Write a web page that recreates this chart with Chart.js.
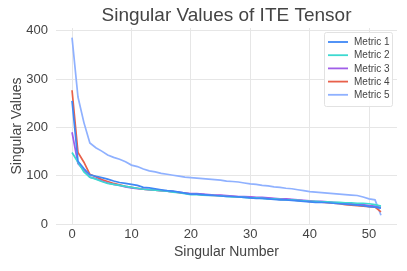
<!DOCTYPE html>
<html>
<head>
<meta charset="utf-8">
<script src="https://cdn.jsdelivr.net/npm/chart.js@4"></script>
<style>
  html, body { margin: 0; padding: 0; background: #fff; }
  #wrap { width: 407px; height: 271px; }
</style>
</head>
<body>
<div id="wrap"><canvas id="myChart"></canvas></div>
<script>
const metricNames = ["Metric 1", "Metric 2", "Metric 3", "Metric 4", "Metric 5"];
const metricColors = ["#3f87f5", "#3dd9d0", "#a05ee8", "#e8604a", "#8fb1ff"];

const metric1 = [255, 130, 115, 102, 99, 96, 93, 89, 86, 84,
  82, 80, 76, 75, 73, 71, 69, 68, 66, 64,
  62, 62, 61, 60, 59, 58, 57, 57, 56, 55,
  54, 53, 53, 52, 51, 50, 50, 49, 48, 47,
  46, 45, 45, 44, 43, 42, 41, 40, 39, 38,
  36, 35, 33];
const metric2 = [148, 128, 108, 97, 93, 88, 84, 82, 80, 78,
  76, 74, 72, 71, 70, 69, 68, 66, 65, 63,
  61, 61, 60, 59, 59, 58, 57, 56, 56, 55,
  54, 54, 53, 52, 52, 51, 50, 50, 49, 48,
  47, 47, 46, 46, 45, 45, 44, 44, 43, 43,
  42, 40, 37];
const metric3 = [190, 125, 112, 97, 94, 89, 85, 82, 80, 77,
  75, 73, 72, 71, 70, 69, 68, 67, 66, 64,
  63, 63, 62, 61, 60, 60, 59, 58, 57, 57,
  56, 55, 55, 54, 53, 52, 52, 51, 50, 49,
  48, 47, 47, 46, 45, 44, 43, 42, 41, 40,
  38, 37, 34];
const metric4 = [277, 148, 128, 103, 98, 92, 88, 84, 81, 78,
  76, 74, 72, 71, 70, 69, 68, 67, 65, 64,
  62, 62, 61, 60, 59, 59, 58, 57, 56, 56,
  55, 54, 54, 53, 52, 51, 51, 50, 49, 48,
  47, 46, 45, 44, 43, 42, 40, 39, 38, 37,
  36, 35, 25];
const metric5 = [386, 263, 210, 168, 158, 151, 143, 138, 134, 129,
  122, 119, 114, 110, 108, 105, 103, 101, 99, 97,
  96, 95, 94, 93, 92, 91, 89, 88, 87, 85,
  83, 82, 80, 79, 77, 76, 74, 73, 71, 69,
  67, 66, 65, 64, 63, 62, 61, 60, 59, 56,
  52, 50, 18];

const xTicks = [0, 10, 20, 30, 40, 50];
const yTicks = [0, 100, 200, 300, 400];
const chartTitle = "Singular Values of ITE Tensor";

const allSeries = [metric1, metric2, metric3, metric4, metric5];
const FONT = "'Liberation Sans', Arial, sans-serif";

const datasets = allSeries.map((vals, i) => ({
  label: metricNames[i],
  data: vals.map((v, k) => ({ x: k, y: v })),
  borderColor: metricColors[i],
  borderWidth: 1.7,
  pointRadius: 0,
  fill: false,
  tension: 0,
}));

// title centred over the plot area + legend box in the top right
const extras = {
  id: "extras",
  afterDraw(chart) {
    const ctx = chart.ctx;
    const area = chart.chartArea;
    ctx.save();
    ctx.fillStyle = "#444";
    ctx.font = "19px " + FONT;
    ctx.textAlign = "center";
    ctx.textBaseline = "middle";
    ctx.fillText(chartTitle, (area.left + area.right) / 2, 16);

    const x0 = 324, y0 = 32, w = 68, h = 74;
    ctx.fillStyle = "rgba(255,255,255,0.9)";
    ctx.strokeStyle = "#e2e2e2";
    ctx.lineWidth = 1;
    ctx.beginPath();
    ctx.roundRect(x0 + 0.5, y0 + 0.5, w, h, 2);
    ctx.fill();
    ctx.stroke();
    ctx.font = "10px " + FONT;
    ctx.textAlign = "left";
    chart.data.datasets.forEach((ds, i) => {
      const y = 42 + i * 13.2;
      ctx.strokeStyle = ds.borderColor;
      ctx.lineWidth = 1.8;
      ctx.beginPath();
      ctx.moveTo(328, y);
      ctx.lineTo(348, y);
      ctx.stroke();
      ctx.fillStyle = "#444";
      ctx.fillText(ds.label, 354, y + 0.5);
    });
    ctx.restore();
  },
};

const tickFont = { family: FONT, size: 13 };

new Chart(document.getElementById("myChart"), {
  type: "line",
  data: { datasets: datasets },
  options: {
    responsive: true,
    maintainAspectRatio: false,
    animation: false,
    layout: { padding: { left: 0, right: 10, top: 28, bottom: 0 } },
    plugins: {
      legend: { display: false },
      tooltip: { enabled: false },
    },
    scales: {
      x: {
        type: "linear",
        min: -2.7,
        max: 54.7,
        afterBuildTicks: (axis) => { axis.ticks = xTicks.map((v) => ({ value: v })); },
        afterFit: (axis) => { axis.height = 47; },
        grid: { color: "#e6e6e6", drawTicks: false },
        border: { display: false },
        ticks: { color: "#444", font: tickFont, padding: 3, maxRotation: 0 },
        title: {
          display: true,
          text: "Singular Number",
          color: "#444",
          font: { family: FONT, size: 14 },
          padding: { top: 0, bottom: 10 },
        },
      },
      y: {
        min: 0,
        max: 406,
        afterBuildTicks: (axis) => { axis.ticks = yTicks.map((v) => ({ value: v })); },
        afterFit: (axis) => { axis.width = 56; },
        grid: { color: "#e6e6e6", drawTicks: false },
        border: { display: false },
        ticks: { color: "#444", font: tickFont, padding: 8 },
        title: {
          display: true,
          text: "Singular Values",
          color: "#444",
          font: { family: FONT, size: 14 },
          padding: { top: 9, bottom: 0 },
        },
      },
    },
  },
  plugins: [extras],
});
</script>
</body>
</html>
